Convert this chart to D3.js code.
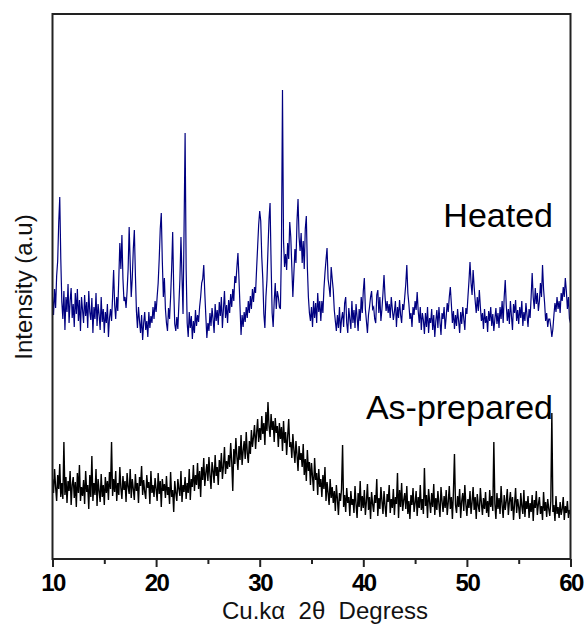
<!DOCTYPE html>
<html><head><meta charset="utf-8">
<script src="https://cdn.jsdelivr.net/npm/d3@7"></script>
<style>body{margin:0;background:#fff} svg{display:block}</style>
</head><body><svg id="c" width="587" height="626"></svg>
<script>
// 2-theta grid: 10.0 .. 60.0 in 0.1 degree steps
const angleStart = 10, angleStep = 0.1;

// Heated pattern (intensity, arbitrary units)
const heated = [
262,244,270,251,283,298,336,362,300,257,
240,268,229,262,247,275,236,258,271,241,
255,232,266,245,270,238,259,228,262,249,
236,264,243,257,231,268,247,239,261,226,
252,240,266,233,255,244,229,262,237,250,
226,247,236,255,222,241,250,238,262,289,
254,240,262,248,281,316,290,324,280,258,
262,251,268,290,332,296,262,281,310,329,
285,248,231,252,238,226,244,219,236,247,
229,238,222,247,231,243,236,252,240,258,
247,262,276,300,330,346,298,262,281,250,
236,228,251,240,262,290,327,270,235,228,
242,230,255,280,322,282,245,330,426,290,
236,222,247,231,243,220,238,226,249,233,
244,237,252,262,276,280,294,266,243,221,
236,228,246,233,251,240,226,255,238,249,
234,257,243,262,231,250,268,241,254,236,
259,246,265,252,270,258,283,276,292,306,
280,252,224,244,232,247,237,252,241,258,
246,263,250,270,257,272,266,290,312,334,
348,338,302,280,245,231,262,279,310,340,
356,296,246,232,258,276,250,268,262,252,
250,312,469,318,292,305,289,316,300,337,
322,292,262,286,310,296,338,360,322,308,
326,296,318,290,330,343,292,262,246,238,
252,232,258,241,256,236,266,247,258,238,
258,246,270,286,299,311,280,272,262,292,
280,269,249,238,228,244,231,252,226,240,
247,232,256,262,236,226,251,240,230,258,
236,249,231,255,242,228,250,238,262,246,
268,281,250,238,226,244,252,262,268,250,
252,240,236,264,269,246,262,238,250,266,
284,262,248,258,246,255,241,262,250,239,
247,258,232,252,241,259,244,236,255,249,
262,275,294,266,255,240,246,232,252,244,
258,249,267,248,236,252,229,246,239,225,
246,232,252,226,241,236,250,229,244,222,
238,249,231,252,237,224,246,240,252,230,
242,256,247,262,272,255,236,248,230,244,
233,250,238,226,247,235,252,240,229,251,
245,262,278,297,276,264,289,272,258,246,
262,248,269,252,238,246,230,250,236,243,
227,248,238,252,233,245,228,240,251,235,
246,231,252,240,258,236,262,279,254,238,
250,235,258,243,229,255,246,259,238,249,
235,252,241,258,233,247,238,256,244,232,
250,241,262,286,262,250,271,255,266,248,
258,276,262,294,270,256,238,246,232,240,
240,232,222,230,244,256,247,262,250,258,
246,266,258,272,262,281,268,250,262,240,
236];

// As-prepared pattern (intensity, arbitrary units)
const asPrepared = [
80,66,90,72,58,84,70,95,62,76,
60,117,64,82,56,78,68,88,54,74,
82,61,77,52,86,66,94,58,72,63,
79,55,88,67,74,50,84,62,103,58,
76,64,90,53,80,68,57,85,62,74,
54,82,66,78,59,87,70,117,63,80,
67,88,58,76,64,92,71,60,83,69,
78,57,86,72,65,90,61,80,70,59,
85,68,76,56,82,73,93,64,79,67,
60,84,71,77,55,88,66,74,62,81,
70,58,86,65,78,52,80,68,75,61,
83,64,72,55,87,62,69,47,78,66,
58,80,70,63,88,57,74,67,82,60,
76,66,90,59,80,72,94,68,84,74,
96,70,88,62,92,79,101,73,86,95,
78,102,84,70,97,88,76,104,83,92,
74,99,87,106,80,93,112,85,98,90,
104,92,116,97,68,110,95,121,102,89,
113,99,124,94,108,118,100,127,106,96,
118,105,129,112,122,134,110,126,140,117,
131,119,143,125,136,114,147,128,157,133,
122,145,129,138,117,141,126,133,112,136,
120,132,108,138,116,127,104,123,140,112,
117,101,125,109,96,118,104,88,113,99,
106,92,115,84,100,78,109,88,97,74,
96,82,68,101,79,86,64,90,72,80,
62,84,70,92,58,77,66,54,80,61,
72,56,68,48,74,60,44,66,58,70,
114,52,64,47,71,56,62,43,68,54,
60,46,73,55,41,66,52,78,48,63,
51,69,44,58,75,49,62,40,67,55,
47,64,56,80,43,61,50,72,58,45,
68,53,42,65,57,74,46,60,51,70,
44,62,55,86,41,69,52,76,48,59,
66,50,73,45,58,40,64,54,71,47,
56,68,43,62,51,74,49,60,45,91,
53,64,41,70,57,46,66,52,75,44,
61,49,68,55,42,72,58,47,63,51,
69,44,57,73,50,62,40,67,105,54,
46,63,52,70,41,58,66,48,74,55,
43,60,51,68,45,57,72,49,62,40,
65,53,47,71,56,44,61,50,67,46,
58,42,69,52,63,48,117,55,40,66,
50,61,45,73,54,41,64,49,58,70,
44,57,67,48,62,39,55,71,46,60,
52,40,66,53,45,69,42,58,50,63,
41,56,47,64,38,59,51,68,44,55,
62,45,53,39,67,48,57,42,60,50,
43,58,146,47,54,38,63,45,52,41,
57,44,50,62,39,53,46,58,41,49,
45];

const majorTicks = [10, 20, 30, 40, 50, 60];
const minorTicks = [15, 25, 35, 45, 55];
const seriesNames = ["Heated", "As-prepared"];
const seriesColors = ["#000080", "#000000"];
const seriesWidths = [1.2, 1.4];
const xTitle = "Cu.k\u03B1  2\u03B8  Degress";
const yTitle = "Intensity (a.u)";

const font = "'Liberation Sans', Arial, Helvetica, sans-serif";
const m = {left: 52.5, right: 570.5, top: 14, bottom: 559};

const svg = d3.select("#c");
const x = d3.scaleLinear().domain([10, 60]).range([m.left, m.right]);
const y = d3.scaleLinear().domain([0, 545]).range([m.bottom, m.top]);

svg.append("defs").append("clipPath").attr("id", "clip")
  .append("rect").attr("x", m.left).attr("y", m.top)
  .attr("width", m.right - m.left).attr("height", m.bottom - m.top);

const line = d3.line().x((d, i) => x(angleStart + i * angleStep)).y(d => y(d));

const g = svg.append("g").attr("clip-path", "url(#clip)");
[heated, asPrepared].forEach((s, k) => {
  g.append("path").datum(s).attr("d", line)
    .attr("fill", "none").attr("stroke", seriesColors[k])
    .attr("stroke-width", seriesWidths[k]).attr("stroke-linejoin", "miter");
});

// frame
svg.append("rect").attr("x", m.left).attr("y", m.top)
  .attr("width", m.right - m.left).attr("height", m.bottom - m.top)
  .attr("fill", "none").attr("stroke", "#222").attr("stroke-width", 2);

// x axis
const ax = svg.append("g").attr("transform", `translate(0,${m.bottom})`)
  .call(d3.axisBottom(x).tickValues(majorTicks).tickSize(8).tickFormat(d3.format("d")));
ax.select(".domain").remove();
ax.selectAll(".tick line").attr("stroke", "#222").attr("stroke-width", 2);
ax.selectAll(".tick text").attr("y", 32).attr("dy", 0)
  .attr("font-family", font).attr("font-size", 24).attr("font-weight", "bold")
  .attr("letter-spacing", "-1.5").attr("fill", "#000");
const axm = svg.append("g").attr("transform", `translate(0,${m.bottom})`)
  .call(d3.axisBottom(x).tickValues(minorTicks).tickSize(5).tickFormat(""));
axm.select(".domain").remove();
axm.selectAll(".tick line").attr("stroke", "#222").attr("stroke-width", 2);

// titles
svg.append("text").attr("x", 325).attr("y", 619)
  .attr("text-anchor", "middle").attr("font-family", font).attr("font-size", 24)
  .style("white-space", "pre").attr("fill", "#111").text(xTitle);
svg.append("text").attr("transform", `translate(32,${287}) rotate(-90)`)
  .attr("text-anchor", "middle").attr("font-family", font).attr("font-size", 24)
  .attr("fill", "#111").text(yTitle);

// series labels
svg.append("text").attr("x", 553).attr("y", 227).attr("text-anchor", "end")
  .attr("font-family", font).attr("font-size", 34).attr("fill", "#000").text(seriesNames[0]);
svg.append("text").attr("x", 553).attr("y", 419).attr("text-anchor", "end")
  .attr("font-family", font).attr("font-size", 34).attr("fill", "#000").text(seriesNames[1]);
</script></body></html>
